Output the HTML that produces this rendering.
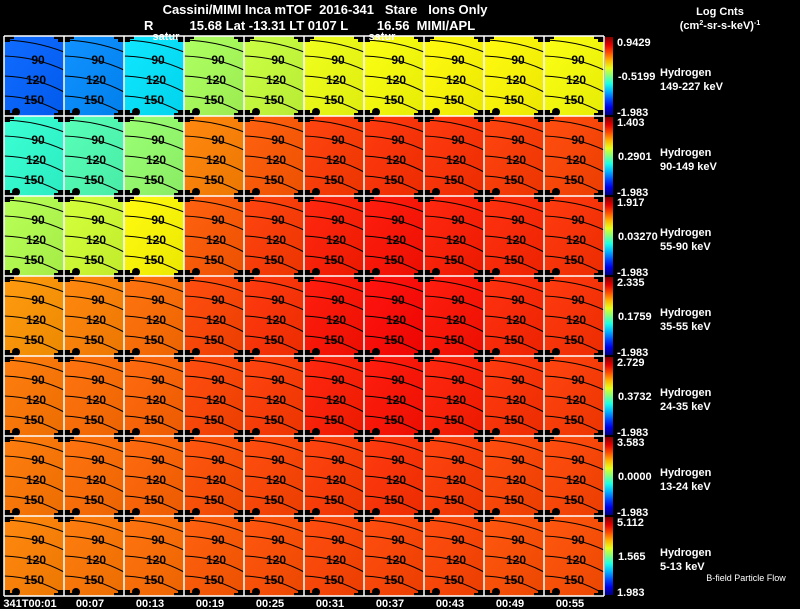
<!DOCTYPE html>
<html><head><meta charset="utf-8">
<style>
html,body{margin:0;padding:0;background:#000;}
svg{display:block;font-family:"Liberation Sans",sans-serif;}
</style></head>
<body>
<svg id="chart" width="800" height="609" viewBox="0 0 800 609" xmlns="http://www.w3.org/2000/svg">
<rect width="800" height="609" fill="#000"/>
<text x="325" y="14" fill="#fff" font-size="13" font-weight="bold" text-anchor="middle" xml:space="preserve">Cassini/MIMI Inca mTOF  2016-341   Stare   Ions Only</text>
<text x="144" y="30" fill="#fff" font-size="13" font-weight="bold" xml:space="preserve">R          15.68 Lat -13.31 LT 0107 L        16.56  MIMI/APL</text>
<text x="720" y="15" fill="#fff" font-size="11" font-weight="bold" text-anchor="middle">Log Cnts</text>
<text x="720" y="29" fill="#fff" font-size="11" font-weight="bold" text-anchor="middle">(cm<tspan font-size="7" dy="-4">2</tspan><tspan dy="4">-sr-s-keV)</tspan><tspan font-size="7" dy="-4">-1</tspan></text>
<g id="panels"></g>
<g id="labels"></g>
<text x="166" y="40" fill="#fff" font-size="11" font-weight="bold" text-anchor="middle">satur</text>
<text x="382" y="40" fill="#fff" font-size="11" font-weight="bold" text-anchor="middle">satur</text>
<text x="746" y="581" fill="#fff" font-size="9" text-anchor="middle">B-field Particle Flow</text>
</svg>
<script>
const times = ["341T00:01","00:07","00:13","00:19","00:25","00:31","00:37","00:43","00:49","00:55"];
const energies = ["149-227 keV","90-149 keV","55-90 keV","35-55 keV","24-35 keV","13-24 keV","5-13 keV"];
const cbTop = ["0.9429","1.403","1.917","2.335","2.729","3.583","5.112"];
const cbMid = ["-0.5199","0.2901","0.03270","0.1759","0.3732","0.0000","1.565"];
const cbBot = ["-1.983","-1.983","-1.983","-1.983","-1.983","-1.983","1.983"];
// normalized (0..1) panel intensity on colour scale
const row0 = [0.22,0.26,0.35,0.54,0.57,0.61,0.62,0.63,0.63,0.62];
const row1 = [0.42,0.45,0.52,0.75,0.79,0.82,0.83,0.83,0.82,0.81];
const row2 = [0.55,0.58,0.63,0.79,0.82,0.85,0.86,0.85,0.84,0.83];
const row3 = [0.73,0.75,0.77,0.81,0.83,0.86,0.87,0.86,0.84,0.83];
const row4 = [0.76,0.77,0.78,0.81,0.82,0.85,0.86,0.85,0.83,0.82];
const row5 = [0.76,0.77,0.78,0.80,0.81,0.82,0.83,0.82,0.81,0.81];
const row6 = [0.75,0.76,0.77,0.79,0.80,0.81,0.81,0.81,0.80,0.80];
const rows = [row0,row1,row2,row3,row4,row5,row6];

const NS="http://www.w3.org/2000/svg";
const X0=4, Y0=36, PW=60, PH=80;
const xPos = i => X0 + i*PW;
const yPos = r => Y0 + r*PH;
function jet(v){
  const c=t=>Math.round(255*Math.max(0,Math.min(1,1.5-Math.abs(t))));
  return `rgb(${c(4*v-3)},${c(4*v-2)},${c(4*v-1)})`;
}
function mk(tag,attrs,parent){const e=document.createElementNS(NS,tag);for(const k in attrs)e.setAttribute(k,attrs[k]);parent.appendChild(e);return e;}
const P=document.getElementById('panels'), L=document.getElementById('labels');
const defs=mk('defs',{},P);
const g=mk('linearGradient',{id:'shade',x1:0,y1:0,x2:1,y2:1},defs);
mk('stop',{offset:0,'stop-color':'#fff','stop-opacity':0.06},g);
mk('stop',{offset:1,'stop-color':'#000','stop-opacity':0.08},g);

rows.forEach((vals,r)=>{
  vals.forEach((v,i)=>{
    const x=xPos(i), y=yPos(r);
    const rc=mk('rect',{x:x,y:y,width:PW,height:PH,fill:jet(v)},P);
    
    
    mk('rect',{x:x,y:y,width:PW,height:PH,fill:'url(#shade)'},P);
    const offs=[[4,16,'60'],[20,34,'90'],[40,56,'120'],[60,78,'150']];
    offs.forEach((o,k)=>{
      const p=mk('path',{d:`M${x} ${y+o[0]} Q${x+32} ${y+o[0]+1} ${x+PW} ${y+o[1]}`,stroke:'#000','stroke-width':1,fill:'none'},P);
      
      
      if(k>0){
        const t=mk('text',{x:x+36-k*2,y:y+o[0]+8,'font-size':12,'font-weight':'bold',fill:'#000','text-anchor':'middle'},P);
        t.textContent=o[2];
        
        
      }
    });
    [[x,y],[x+PW-10,y],[x,y+PH-6],[x+PW-10,y+PH-6]].forEach(c=>{
      mk('rect',{x:c[0]+(c[0]===x?0:4),y:c[1],width:6,height:6,fill:'#000'},P);
      mk('rect',{x:c[0],y:c[1]+(c[1]===y?0:3),width:10,height:3,fill:'#000'},P);
    });
    mk('circle',{cx:x+12,cy:y+PH-4,r:4,fill:'#000'},P);
  });
  for(let i=0;i<=10;i++){mk('line',{x1:xPos(i),y1:yPos(r),x2:xPos(i),y2:yPos(r)+PH,stroke:'#fff','stroke-width':1.5},P);}
  mk('line',{x1:X0,y1:yPos(r),x2:xPos(10),y2:yPos(r),stroke:'#fff','stroke-width':1.5},P);
  const gid='cb'+r;
  const lg=mk('linearGradient',{id:gid,x1:0,y1:1,x2:0,y2:0},defs);
  for(let s=0;s<=10;s++) mk('stop',{offset:s/10,'stop-color':jet(s/10)},lg);
  const cb=mk('rect',{x:605,y:yPos(r)+1,width:8,height:PH-2,fill:`url(#${gid})`},P);
  
  
  const t1=mk('text',{x:617,y:yPos(r)+10,'font-size':11,'font-weight':'bold',fill:'#fff'},L); t1.textContent=cbTop[r];
   
  const t2=mk('text',{x:618,y:yPos(r)+44,'font-size':11,'font-weight':'bold',fill:'#fff'},L); t2.textContent=cbMid[r];
   
  const t3=mk('text',{x:617,y:yPos(r)+PH,'font-size':11,'font-weight':'bold',fill:'#fff'},L); t3.textContent=cbBot[r];
   
  const h=mk('text',{x:660,y:yPos(r)+40,'font-size':11,'font-weight':'bold',fill:'#fff'},L); h.textContent='Hydrogen';
   
  const e=mk('text',{x:660,y:yPos(r)+54,'font-size':11,'font-weight':'bold',fill:'#fff'},L); e.textContent=energies[r];
   
});
mk('line',{x1:X0,y1:yPos(7),x2:xPos(10),y2:yPos(7),stroke:'#fff','stroke-width':1.5},P);
times.forEach((tm,i)=>{
  const t=mk('text',{x:xPos(i)+PW/2-4,y:607,'font-size':11,'font-weight':'bold',fill:'#fff','text-anchor':'middle'},L);
  t.textContent=tm;
  
  
});
</script>
</body></html>
